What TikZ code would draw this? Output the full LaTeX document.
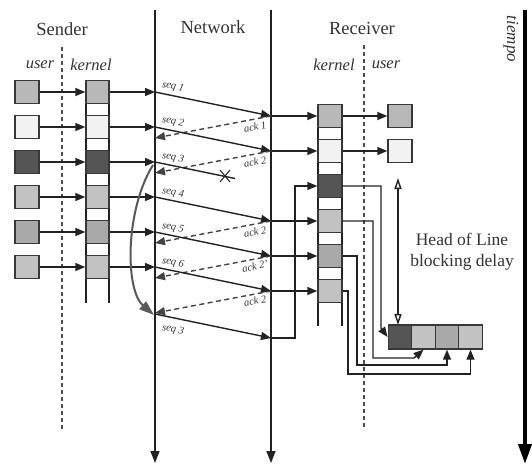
\documentclass[tikz,border=0pt]{standalone}
\usepackage{fontspec}
\setmainfont{Liberation Serif}
\usetikzlibrary{arrows.meta}
\definecolor{cA}{HTML}{B8B8B8}
\definecolor{cB}{HTML}{F2F2F2}
\definecolor{cC}{HTML}{555555}
\definecolor{cD}{HTML}{A9A9A9}
\definecolor{cE}{HTML}{C2C2C2}
\definecolor{ink}{HTML}{222222}
\definecolor{txt}{HTML}{333333}
\begin{document}
\begin{tikzpicture}[x=1pt,y=-1pt,
  ln/.style={draw=ink, line width=1.4pt},
  arr/.style={ln, -{Triangle[length=10pt,width=8pt]}},
  dsh/.style={draw=ink!85, line width=1.4pt, dash pattern=on 5pt off 3.5pt, -{Triangle[length=10pt,width=8pt]}},
  sepline/.style={draw=ink!80, line width=1.3pt, dash pattern=on 4pt off 3pt},
  box/.style={draw=ink!90, line width=1.4pt, minimum width=23.5pt, minimum height=23pt, inner sep=0pt},
  ttl/.style={text=txt, font=\fontsize{18.5}{20}\selectfont},
  lab/.style={text=txt, font=\fontsize{16.5}{18}\selectfont\itshape},
  sm/.style={text=txt, font=\fontsize{10.5}{12}\selectfont\itshape, inner sep=0pt},
  hol/.style={text=txt, font=\fontsize{17.5}{21}\selectfont, align=center}
]
\useasboundingbox (0,0) rectangle (532,464);

% titles
\node[ttl] (tS) at (62,29) {Sender};
\node[ttl] (tN) at (213,27) {Network};
\node[ttl] (tR) at (362,28) {Receiver};
\node[lab] (tu1) at (40,65) {user};
\node[lab] (tk1) at (91,65) {kernel};
\node[lab] (tk2) at (334,65) {kernel};
\node[lab] (tu2) at (386,65) {user};
\node[text=txt, font=\fontsize{17}{18}\selectfont\itshape, rotate=-90] (tt) at (511,39) {tiempo};

% vertical axes
\coordinate (sdT) at (62,47);  \coordinate (sdB) at (62,430);
\coordinate (rdT) at (364,45); \coordinate (rdB) at (364,430);
\draw[sepline] (sdT) -- (sdB);
\draw[sepline] (rdT) -- (rdB);
\coordinate (nLT) at (155,10); \coordinate (nLB) at (155,463);
\coordinate (nRT) at (271,10); \coordinate (nRB) at (271,463);
\draw[ln, -{Triangle[length=12pt,width=9pt]}] (nLT) -- (nLB);
\draw[ln, -{Triangle[length=12pt,width=9pt]}] (nRT) -- (nRB);
\coordinate (tmT) at (525,10); \coordinate (tmB) at (525,464);
\draw[draw=black, line width=3.8pt, -{Triangle[length=20pt,width=13pt]}] (tmT) -- (tmB);

% buffer columns
\coordinate (skc1) at (86,81);  \coordinate (skc2) at (86,303);
\coordinate (skc3) at (109,81); \coordinate (skc4) at (109,303);
\draw[ln] (skc1) -- (skc2); \draw[ln] (skc3) -- (skc4);
\coordinate (rkc1) at (318,104); \coordinate (rkc2) at (318,326);
\coordinate (rkc3) at (342,104); \coordinate (rkc4) at (342,326);
\draw[ln] (rkc1) -- (rkc2); \draw[ln] (rkc3) -- (rkc4);

% sender
\foreach \i/\y/\c in {1/92/cA,2/127/cB,3/162/cC,4/197/cE,5/232/cD,6/267/cE} {
  \node[box, fill=\c, minimum width=24pt] (su\i) at (27,\y) {};
  \node[box, fill=\c, minimum width=23pt] (sk\i) at (97.5,\y) {};
  \coordinate (ns\i) at (155,\y);
  \draw[arr] (su\i) -- (sk\i);
  \draw[arr] (sk\i) -- (ns\i);
}

% receiver kernel
\foreach \i/\y/\c in {1/116/cA,2/151/cB,3/186/cC,4/221/cE,5/256/cD,6/291/cE} {
  \node[box, fill=\c, minimum width=24pt] (rk\i) at (330,\y) {};
  \coordinate (nr\i) at (271,\y);
  \coordinate (na\i) at (155,\y+22);
}
\node[box, fill=cA, minimum width=24pt] (ru1) at (400,116) {};
\node[box, fill=cB, minimum width=24pt] (ru2) at (400,151) {};
\draw[arr] (rk1) -- (ru1);
\draw[arr] (rk2) -- (ru2);

% segments through the network
\foreach \i in {1,2,4,5,6} {
  \draw[arr] (ns\i) -- (nr\i);
  \draw[arr] (nr\i) -- (rk\i);
  \draw[dsh] (nr\i) -- (na\i);
}
\coordinate (lost) at (235,178.5);
\draw[ln] (ns3) -- (lost);
\coordinate (x1) at (220,170); \coordinate (x2) at (230,182);
\coordinate (x3) at (220,182); \coordinate (x4) at (230,170);
\draw[ink, line width=1pt] (x1) -- (x2) (x3) -- (x4);

% retransmission
\coordinate (ns7) at (155,314);
\coordinate (nr7) at (271,338);
\coordinate (rt) at (295,338);
\draw[arr] (ns7) -- (nr7);
\draw[arr] (nr7) -- (rt) |- (rk3);
\coordinate (cs) at (153,165);
\coordinate (ce) at (154,315);
\draw[draw=black!65, line width=2pt, -{Triangle[length=15pt,width=10pt]}]
  (cs) .. controls (125,210) and (125,290) .. (ce);

% labels on segments
\node[sm, rotate=-12] (ls1) at (173,87) {seq 1};
\node[sm, rotate=-12] (ls2) at (173,122) {seq 2};
\node[sm, rotate=-12] (ls3) at (173,158) {seq 3};
\node[sm, rotate=-12] (ls4) at (173,193) {seq 4};
\node[sm, rotate=-12] (ls5) at (173,228) {seq 5};
\node[sm, rotate=-12] (ls6) at (173,263) {seq 6};
\node[sm, rotate=-12] (ls7) at (173,330) {seq 3};
\node[sm, rotate=11] (la1) at (255,127) {ack 1};
\node[sm, rotate=11] (la2) at (255,162) {ack 2};
\node[sm, rotate=11] (la4) at (255,232) {ack 2};
\node[sm, rotate=11] (la5) at (255,266) {ack 2'};
\node[sm, rotate=11] (la6) at (255,301) {ack 2};

% reordering queue
\node[box, fill=cC, minimum height=24pt] (q1) at (400,337) {};
\node[box, fill=cE, minimum height=24pt] (q2) at (423.5,337) {};
\node[box, fill=cD, minimum height=24pt] (q3) at (447,337) {};
\node[box, fill=cE, minimum height=24pt] (q4) at (470.5,337) {};

\coordinate (a3) at (381,186); \coordinate (b3) at (381,328);
\draw[arr] (rk3.east) -- (a3) -- (b3) -- (q1.west);
\coordinate (a4) at (373,221); \coordinate (b4) at (373,358); \coordinate (c4) at (414,358);
\draw[arr] (rk4.east) -- (a4) -- (b4) -- (c4) -- (q2.south);
\coordinate (b5) at (357,365);
\draw[arr] (rk5.east) -| (b5) -| (q3.south);
\coordinate (b6) at (348,374);
\draw[arr] (rk6.east) -| (b6) -| (q4.south);

% head of line delay
\coordinate (h1) at (398,178); \coordinate (h2) at (398,325);
\draw[ln, {Triangle[open,length=11pt,width=7pt]}-{Triangle[open,length=11pt,width=7pt]}] (h1) -- (h2);
\node[hol] (holt) at (462,252) {Head of Line\\blocking delay};
\end{tikzpicture}
\end{document}
